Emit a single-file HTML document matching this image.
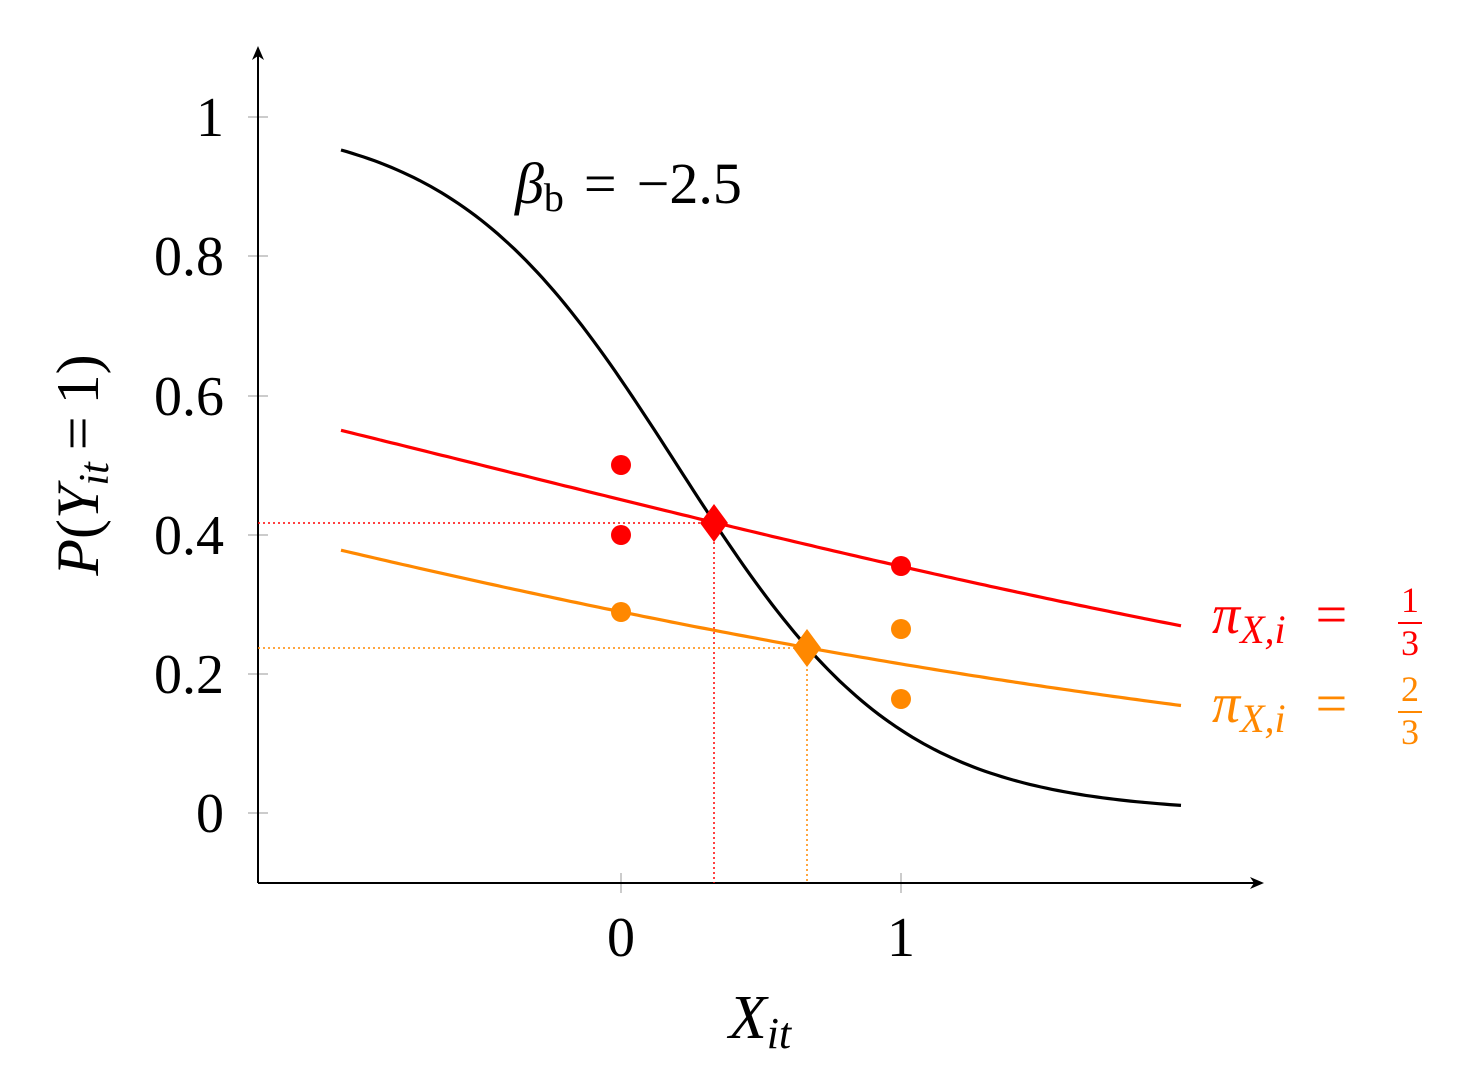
<!DOCTYPE html>
<html><head><meta charset="utf-8"><style>body{margin:0;background:#fff}svg{display:block}</style></head>
<body>
<svg id="s" width="1469" height="1086" viewBox="0 0 1469 1086" xmlns="http://www.w3.org/2000/svg" font-family="Liberation Serif, serif">
<g stroke="#999" stroke-width="1">
<line x1="248" y1="117" x2="268" y2="117"/><line x1="248" y1="256" x2="268" y2="256"/>
<line x1="248" y1="396" x2="268" y2="396"/><line x1="248" y1="535" x2="268" y2="535"/>
<line x1="248" y1="674" x2="268" y2="674"/><line x1="248" y1="813" x2="268" y2="813"/>
<line x1="621" y1="873" x2="621" y2="893"/><line x1="901" y1="873" x2="901" y2="893"/>
</g>
<g stroke="#000" stroke-width="2" fill="none">
<line x1="258" y1="883" x2="258" y2="52"/><line x1="258" y1="883" x2="1258" y2="883"/>
</g>
<path d="M258 46 L252 60 L258 56 L264 60Z"/><path d="M1264 883 L1250 877 L1254 883 L1250 889Z"/>
<g font-size="56" text-anchor="end">
<text x="224" y="136">1</text><text x="224" y="275">0.8</text><text x="224" y="415">0.6</text>
<text x="224" y="554">0.4</text><text x="224" y="693">0.2</text><text x="224" y="832">0</text>
</g>
<g font-size="56" text-anchor="middle"><text x="621" y="956">0</text><text x="901" y="956">1</text></g>
<text x="760" y="1038" font-size="62" font-style="italic" text-anchor="middle">X<tspan font-size="44" dy="10">it</tspan></text>
<text transform="translate(98,465) rotate(-90)" font-size="60" text-anchor="middle"><tspan font-style="italic">P</tspan>(<tspan font-style="italic">Y</tspan><tspan font-size="42" font-style="italic" dy="10">it</tspan><tspan dy="-10" dx="12">=</tspan><tspan dx="12">1)</tspan></text>
<text x="515" y="203" font-size="58"><tspan font-style="italic">β</tspan><tspan font-size="40" dy="8">b</tspan><tspan dy="-8" dx="20">=</tspan><tspan dx="20">−2.5</tspan></text>
<g stroke-width="1.5" stroke-dasharray="2,3" fill="none">
<path d="M258 523 H714 V883" stroke="#f00"/><path d="M258 648 H807 V883" stroke="#f80"/>
</g>
<path id="pb" fill="none" stroke="#000" stroke-width="3.2"/>
<path id="pr" fill="none" stroke="#f00" stroke-width="3.2"/>
<path id="po" fill="none" stroke="#f80" stroke-width="3.2"/>
<g fill="#f00"><circle cx="621" cy="465" r="10"/><circle cx="621" cy="535" r="10"/><circle cx="901" cy="566" r="10"/>
<path d="M714 504 L728 523 L714 542 L700 523Z"/></g>
<g fill="#f80"><circle cx="621" cy="612" r="10"/><circle cx="901" cy="629" r="10"/><circle cx="901" cy="699" r="10"/>
<path d="M807 629 L821 648 L807 667 L793 648Z"/></g>
<g font-size="56" fill="#f00"><text x="1212" y="633"><tspan font-style="italic">π</tspan><tspan font-size="40" font-style="italic" dy="10">X,i</tspan><tspan dy="-10" dx="30">=</tspan></text>
<text x="1410" y="612" font-size="36" text-anchor="middle">1</text><line x1="1398" y1="623" x2="1422" y2="623" stroke="#f00" stroke-width="2"/><text x="1410" y="655" font-size="36" text-anchor="middle">3</text></g>
<g font-size="56" fill="#f80"><text x="1212" y="722"><tspan font-style="italic">π</tspan><tspan font-size="40" font-style="italic" dy="10">X,i</tspan><tspan dy="-10" dx="30">=</tspan></text>
<text x="1410" y="701" font-size="36" text-anchor="middle">2</text><line x1="1398" y1="712" x2="1422" y2="712" stroke="#f80" stroke-width="2"/><text x="1410" y="744" font-size="36" text-anchor="middle">3</text></g>
<script>
function mk(a,b){var d="";for(var i=0;i<=150;i++){var x=-1+3*i/150;var p=1/(1+Math.exp(-(a+b*x)));d+=(i?"L":"M")+(621+280*x).toFixed(1)+" "+(813-696*p).toFixed(1);}return d;}
document.getElementById("pb").setAttribute("d",mk(0.5,-2.5));
document.getElementById("pr").setAttribute("d",mk(-0.2,-0.4));
document.getElementById("po").setAttribute("d",mk(-0.9,-0.4));
</script>
</svg>
</body></html>
